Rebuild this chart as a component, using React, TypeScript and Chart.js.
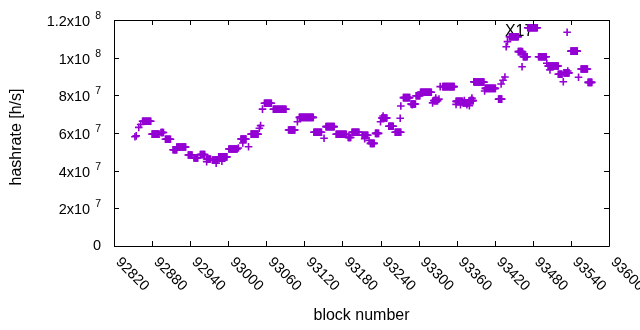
import React, { useEffect, useRef } from "react";
import { Chart, registerables } from "chart.js";

Chart.register(...registerables);

// ---- axes ----
const xMin = 92820;
const xMax = 93600;
const xTickValues = [92820, 92880, 92940, 93000, 93060, 93120, 93180, 93240, 93300, 93360, 93420, 93480, 93540, 93600];
const yMin = 0;
const yMax = 1.2e8;
const yTickValues = [0, 2e7, 4e7, 6e7, 8e7, 1e8, 1.2e8];
const yTickBase = ["0", "2x10", "4x10", "6x10", "8x10", "1x10", "1.2x10"];
const yTickExp = ["", "7", "7", "7", "7", "8", "8"];
const xTitle = "block number";
const yTitle = "hashrate [h/s]";

// ---- runs of consecutive blocks sharing one hashrate (block from, block to, hashrate) ----
const runStart = [
  92865, 92880, 92894, 92901, 92913, 92919, 92937, 92946, 92956, 92966, 92975, 92985, 93001, 93020,
  93036, 93057, 93071, 93095, 93112, 93135, 93154, 93170, 93189, 93195, 93211, 93224, 93232, 93242,
  93253, 93263, 93276, 93288, 93296, 93303, 93324, 93338, 93359, 93370, 93381, 93388, 93405, 93426,
  93443, 93457, 93465, 93472, 93489, 93504, 93520, 93529, 93540, 93556, 93567,
];
const runEnd = [
  92878, 92891, 92898, 92909, 92919, 92933, 92943, 92952, 92963, 92972, 92983, 92998, 93014, 93028,
  93047, 93068, 93091, 93105, 93134, 93147, 93167, 93186, 93193, 93206, 93220, 93230, 93237, 93250,
  93260, 93272, 93286, 93295, 93302, 93320, 93330, 93356, 93369, 93378, 93386, 93403, 93421, 93431,
  93457, 93463, 93471, 93487, 93501, 93520, 93526, 93537, 93550, 93566, 93573,
];
const runRate = [
  6.62e7, 5.94e7, 6.03e7, 5.67e7, 5.11e7, 5.26e7, 4.83e7, 4.67e7, 4.86e7, 4.62e7, 4.57e7, 4.73e7, 5.15e7, 5.68e7,
  5.94e7, 7.58e7, 7.26e7, 6.16e7, 6.83e7, 6.04e7, 6.34e7, 5.93e7, 5.76e7, 6.04e7, 5.88e7, 5.45e7, 5.98e7, 6.8e7,
  6.36e7, 6.04e7, 7.88e7, 7.54e7, 7.98e7, 8.16e7, 7.72e7, 8.46e7, 7.68e7, 7.6e7, 7.72e7, 8.7e7, 8.37e7, 7.8e7,
  1.111e8, 1.032e8, 1.005e8, 1.159e8, 1.005e8, 9.56e7, 9.12e7, 9.19e7, 1.035e8, 9.4e7, 8.69e7,
];

// ---- single outlying blocks ----
const pointBlock = [
  92853, 92855, 92859, 92862, 92966, 92981, 92990, 93016, 93023, 93032, 93049, 93051, 93054, 93109,
  93151, 93215, 93222, 93240, 93244, 93271, 93272, 93290, 93322, 93327, 93332, 93334, 93359, 93366,
  93372, 93376, 93380, 93384, 93387, 93404, 93430, 93433, 93436, 93438, 93440, 93463, 93464, 93502,
  93507, 93528, 93534, 93535, 93552,
];
const pointRate = [
  5.8e7, 5.85e7, 6.3e7, 6.45e7, 4.48e7, 4.4e7, 4.5e7, 5.2e7, 5.47e7, 5.27e7, 6.25e7, 6.39e7, 7.27e7, 6.6e7,
  5.72e7, 5.7e7, 5.6e7, 6.6e7, 6.9e7, 6.78e7, 7.43e7, 7.5e7, 7.6e7, 7.85e7, 7.8e7, 8.46e7, 7.52e7, 7.5e7,
  7.72e7, 7.5e7, 7.45e7, 7.85e7, 8.72e7, 8.23e7, 8.6e7, 8.8e7, 8.97e7, 1.058e8, 1.085e8, 9.52e7, 1.03e8, 9.7e7,
  9.35e7, 8.72e7, 1.135e8, 9.29e7, 8.96e7,
];

// ---- annotation ----
const noteText = "X17";
const noteBlock = 93436;
const noteRate = 1.14e8;

const PURPLE = "#9400d3";
const FONT = "'Liberation Sans', Arial, sans-serif";

function buildPoints() {
  const pts: { x: number; y: number }[] = [];
  for (let i = 0; i < runStart.length; i++) {
    for (let b = runStart[i]; b <= runEnd[i]; b++) pts.push({ x: b, y: runRate[i] });
  }
  for (let i = 0; i < pointBlock.length; i++) pts.push({ x: pointBlock[i], y: pointRate[i] });
  return pts;
}

const gnuplotFrame = {
  id: "gnuplotFrame",
  beforeDatasetsDraw(chart: any) {
    const ctx = chart.ctx;
    const xs = chart.scales.x;
    const ys = chart.scales.y;
    ctx.save();
    ctx.fillStyle = "#000";
    ctx.font = `16px ${FONT}`;
    ctx.textAlign = "left";
    ctx.textBaseline = "middle";
    ctx.fillText(noteText, xs.getPixelForValue(noteBlock), ys.getPixelForValue(noteRate));
    ctx.restore();
  },
  afterDraw(chart: any) {
    const ctx = chart.ctx;
    const { left, right, top, bottom } = chart.chartArea;
    const xs = chart.scales.x;
    const ys = chart.scales.y;
    const tick = 5;
    ctx.save();
    ctx.strokeStyle = "#000";
    ctx.lineWidth = 1;
    ctx.beginPath();
    ctx.rect(left + 0.5, top + 0.5, right - left, bottom - top);
    ctx.stroke();
    ctx.beginPath();
    for (const v of xTickValues) {
      const px = Math.round(xs.getPixelForValue(v)) + 0.5;
      ctx.moveTo(px, bottom);
      ctx.lineTo(px, bottom - tick);
      ctx.moveTo(px, top);
      ctx.lineTo(px, top + tick);
    }
    for (const v of yTickValues) {
      const py = Math.round(ys.getPixelForValue(v)) + 0.5;
      ctx.moveTo(left, py);
      ctx.lineTo(left + tick, py);
      ctx.moveTo(right, py);
      ctx.lineTo(right - tick, py);
    }
    ctx.stroke();

    ctx.fillStyle = "#000";
    // y tick labels
    const labelRight = left - 13;
    yTickValues.forEach((v, i) => {
      const py = ys.getPixelForValue(v);
      ctx.textAlign = "right";
      ctx.textBaseline = "middle";
      if (!yTickExp[i]) {
        ctx.font = `14.5px ${FONT}`;
        ctx.fillText(yTickBase[i], labelRight, py);
      } else {
        ctx.font = `10.5px ${FONT}`;
        const ew = ctx.measureText(yTickExp[i]).width;
        ctx.fillText(yTickExp[i], labelRight, py - 4);
        ctx.font = `14.5px ${FONT}`;
        ctx.fillText(yTickBase[i], labelRight - ew - 5, py + 2);
      }
    });
    // x tick labels, rotated
    ctx.font = `14.5px ${FONT}`;
    for (const v of xTickValues) {
      const px = xs.getPixelForValue(v);
      ctx.save();
      ctx.translate(px + 4, bottom + 14);
      ctx.rotate(Math.PI / 4);
      ctx.textAlign = "left";
      ctx.textBaseline = "middle";
      ctx.fillText(String(v), 0, 0);
      ctx.restore();
    }
    // axis titles
    ctx.font = `16px ${FONT}`;
    ctx.textAlign = "center";
    ctx.textBaseline = "middle";
    ctx.fillText(xTitle, (left + right) / 2, 316);
    ctx.save();
    ctx.translate(17, (top + bottom) / 2 + 4);
    ctx.rotate(-Math.PI / 2);
    ctx.fillText(yTitle, 0, 0);
    ctx.restore();
    ctx.restore();
  },
};

export default function App() {
  const ref = useRef<HTMLCanvasElement | null>(null);
  useEffect(() => {
    document.body.style.margin = "0";
    const canvas = ref.current;
    if (!canvas) return;
    const chart = new Chart(canvas, {
      type: "scatter",
      data: {
        datasets: [
          {
            data: buildPoints(),
            pointStyle: "cross",
            pointRadius: 3.8,
            pointHoverRadius: 3.8,
            pointBorderWidth: 1.6,
            borderColor: PURPLE,
            backgroundColor: PURPLE,
          },
        ],
      },
      options: {
        responsive: false,
        animation: false,
        events: [],
        layout: { padding: { left: 114, right: 31, top: 20, bottom: 84 } },
        plugins: { legend: { display: false }, tooltip: { enabled: false } },
        scales: {
          x: { type: "linear", min: xMin, max: xMax, display: false },
          y: { type: "linear", min: yMin, max: yMax, display: false },
        },
      },
      plugins: [gnuplotFrame],
    } as any);
    return () => chart.destroy();
  }, []);
  return (
    <div style={{ width: 640, height: 330, background: "#fff" }}>
      <canvas ref={ref} width={640} height={330} style={{ display: "block" }} />
    </div>
  );
}
